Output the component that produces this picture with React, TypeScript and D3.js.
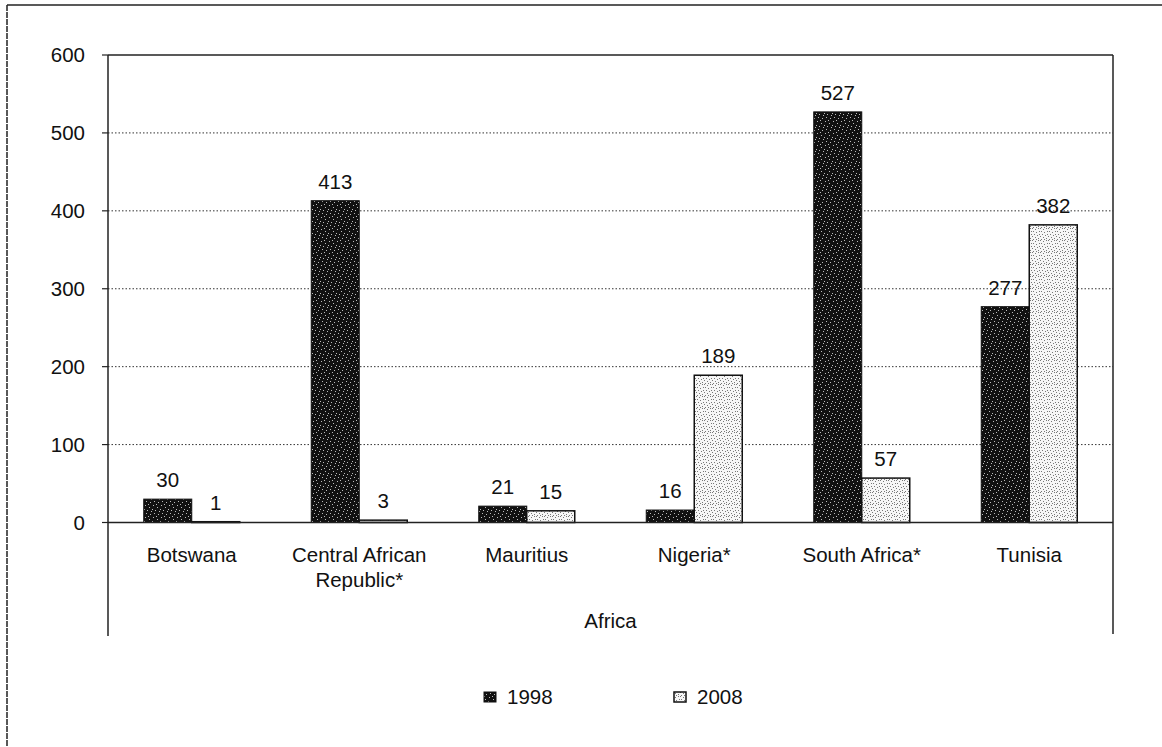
import React from "react";
import * as d3 from "d3";

const categories = ["Botswana", "Central African\nRepublic*", "Mauritius", "Nigeria*", "South Africa*", "Tunisia"];
const series1998 = [30, 413, 21, 16, 527, 277];
const series2008 = [1, 3, 15, 189, 57, 382];
const seriesNames = ["1998", "2008"];
const yTicks = [0, 100, 200, 300, 400, 500, 600];
const groupLabel = "Africa";

const W = 1162;
const H = 747;
const left = 108;
const right = 1113;
const top = 55;
const zeroY = 522.5;
const axisBottom = 636;
const FONT = "'Liberation Sans', Arial, sans-serif";
const FS = 20.5;

export default function App() {
  const x = d3.scaleBand<string>().domain(categories).range([left, right]).paddingInner(0).paddingOuter(0);
  const y = d3.scaleLinear().domain([0, 600]).range([zeroY, top]);
  const barW = 48;

  const darkDots: [number, number][] = [[1, 1], [5, 3], [3, 6], [7, 7], [2, 9], [6, 10], [0, 5], [4, 0]];
  const lightDots: [number, number][] = [[0, 0], [3, 1], [6, 0], [1, 3], [4, 4], [7, 3], [2, 6], [5, 7], [0, 8], [3, 9], [6, 10], [1, 11], [7, 6], [4, 11]];

  return (
    <div style={{ position: "absolute", left: 0, top: 0 }}>
      <svg width={W} height={H} style={{ display: "block", background: "#fff" }} fontFamily={FONT}>
        <defs>
          <pattern id="p1998" width="8" height="12" patternUnits="userSpaceOnUse">
            <rect width="8" height="12" fill="#111" />
            {darkDots.map(([a, b], i) => (
              <rect key={i} x={a} y={b} width="1" height="1" fill="#bbb" />
            ))}
          </pattern>
          <pattern id="p2008" width="8" height="12" patternUnits="userSpaceOnUse">
            <rect width="8" height="12" fill="#f6f6f6" />
            {lightDots.map(([a, b], i) => (
              <rect key={i} x={a} y={b} width="1" height="1" fill="#777" />
            ))}
          </pattern>
        </defs>

        {/* outer frame */}
        <line x1={7} y1={5} x2={W} y2={5} stroke="#222" strokeWidth={1.5} />
        <line x1={7} y1={5} x2={7} y2={H} stroke="#222" strokeWidth={1.5} strokeDasharray="6,1" />

        {/* gridlines */}
        {yTicks.filter((t) => t > 0 && t < 600).map((t) => (
          <line key={t} x1={left} x2={right} y1={y(t)} y2={y(t)} stroke="#333" strokeWidth={1} strokeDasharray="1.5,2" />
        ))}

        {/* plot frame */}
        <line x1={left} x2={right} y1={top} y2={top} stroke="#222" strokeWidth={1.5} />
        <line x1={left} x2={left} y1={top} y2={axisBottom} stroke="#222" strokeWidth={1.5} />
        <line x1={right} x2={right} y1={top} y2={axisBottom - 2} stroke="#222" strokeWidth={1.5} />

        {/* y ticks */}
        {yTicks.map((t) => (
          <g key={t}>
            <line x1={left - 6} x2={left} y1={y(t)} y2={y(t)} stroke="#222" strokeWidth={1.2} />
            <text x={85} y={y(t) + 7} textAnchor="end" fontSize={FS} fill="#111">{t}</text>
          </g>
        ))}

        {/* bars */}
        {categories.map((c, i) => {
          const cx = (x(c) as number) + x.bandwidth() / 2;
          const v1 = series1998[i];
          const v2 = series2008[i];
          return (
            <g key={c}>
              <rect x={cx - barW} y={y(v1)} width={barW} height={zeroY - y(v1)} fill="url(#p1998)" stroke="#111" strokeWidth={1} />
              <rect x={cx} y={y(v2)} width={barW} height={zeroY - y(v2)} fill="url(#p2008)" stroke="#111" strokeWidth={1.5} />
              <text x={cx - barW / 2} y={y(v1) - 12} textAnchor="middle" fontSize={FS} fill="#111">{v1}</text>
              <text x={cx + barW / 2} y={y(v2) - 12} textAnchor="middle" fontSize={FS} fill="#111">{v2}</text>
              {c.split("\n").map((line, k) => (
                <text key={k} x={cx} y={562 + k * 25} textAnchor="middle" fontSize={FS} fill="#111">{line}</text>
              ))}
            </g>
          );
        })}

        {/* zero line */}
        <line x1={left} x2={right} y1={zeroY} y2={zeroY} stroke="#222" strokeWidth={1.5} />

        <text x={(left + right) / 2} y={628} textAnchor="middle" fontSize={FS} fill="#111">{groupLabel}</text>

        {/* legend */}
        <rect x={484} y={692} width={12} height={10} fill="url(#p1998)" stroke="#111" />
        <text x={507} y={704} fontSize={FS} fill="#111">{seriesNames[0]}</text>
        <rect x={674} y={692} width={12} height={10} fill="url(#p2008)" stroke="#111" strokeWidth={1.5} />
        <text x={697} y={704} fontSize={FS} fill="#111">{seriesNames[1]}</text>
      </svg>
    </div>
  );
}
